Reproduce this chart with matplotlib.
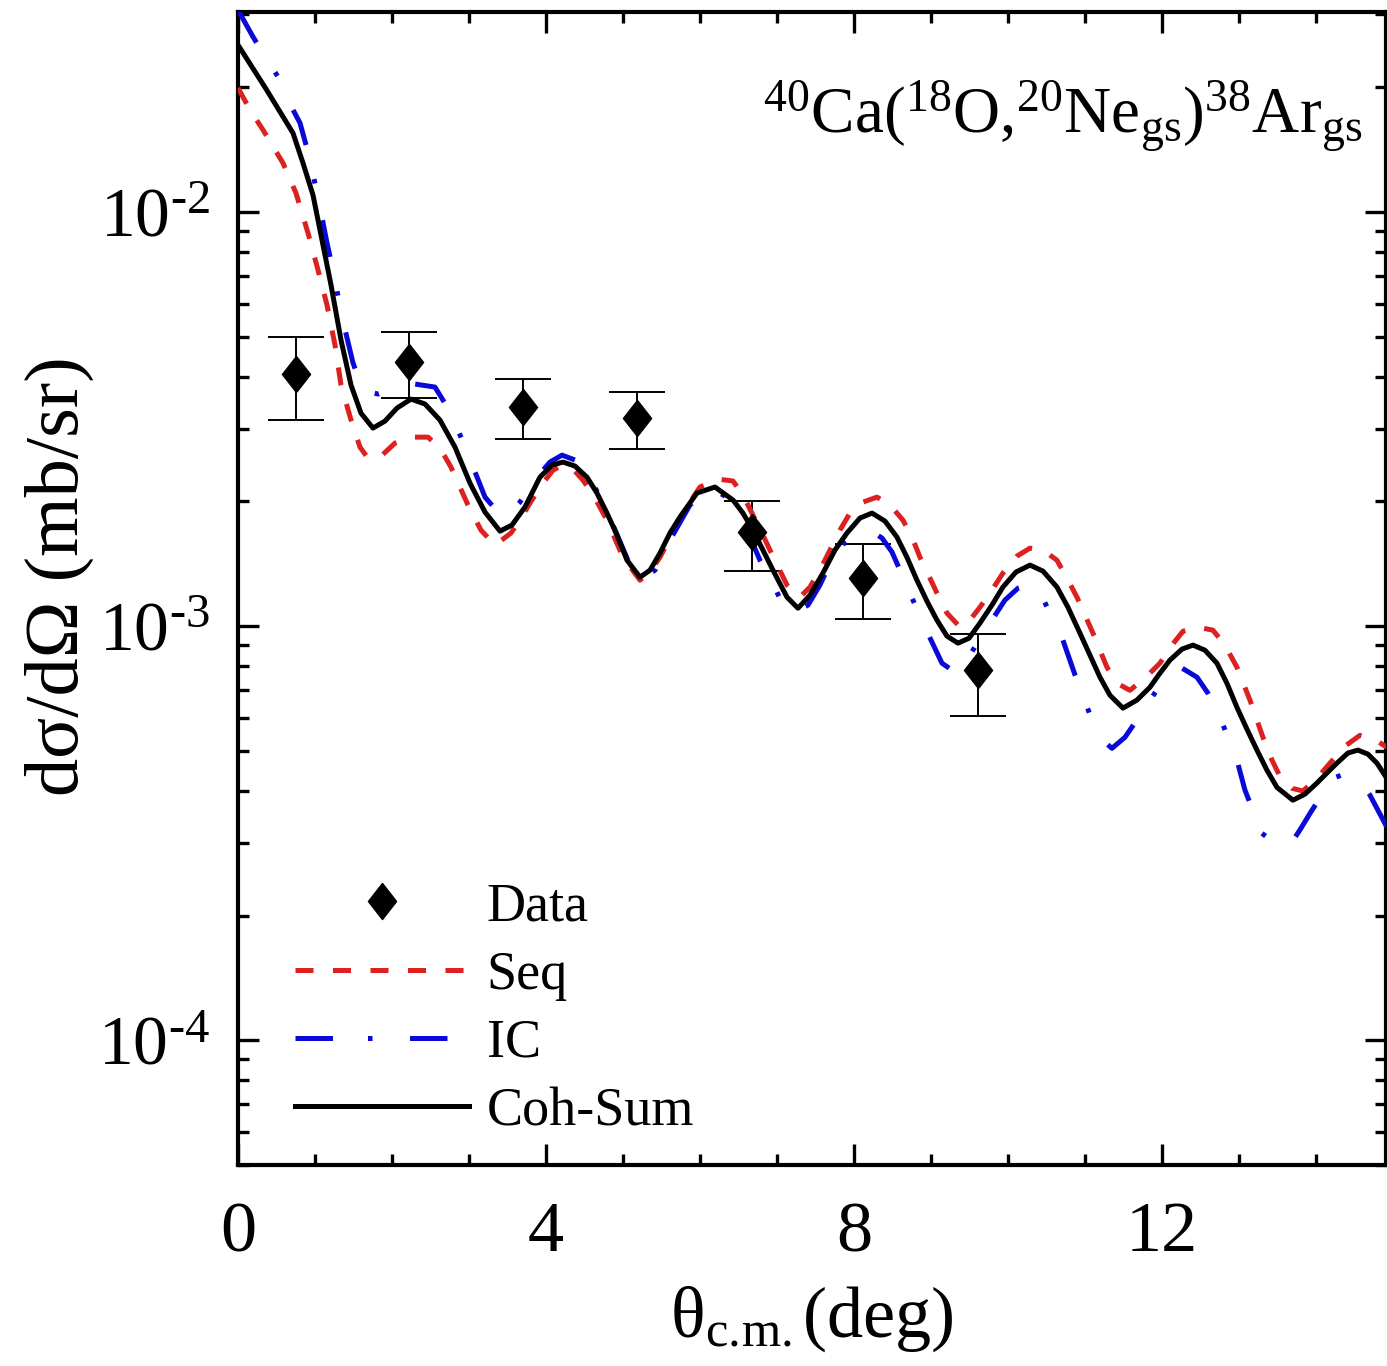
import numpy as np
import matplotlib
matplotlib.use("Agg")
import matplotlib.pyplot as plt
from matplotlib.ticker import LogLocator, FuncFormatter, MultipleLocator, NullFormatter

plt.rcParams['font.family'] = ['Liberation Serif', 'DejaVu Serif']
plt.rcParams['mathtext.fontset'] = 'custom'
plt.rcParams['mathtext.rm'] = 'Liberation Serif'
plt.rcParams['mathtext.it'] = 'Liberation Serif:italic'

# datos experimentales
theta_data = [0.75, 2.22, 3.70, 5.18, 6.68, 8.12, 9.61]
sig_data = [0.00406, 0.00435, 0.00338, 0.00318, 0.00169, 0.00131, 0.000783]
err_up = [0.00499, 0.00513, 0.00395, 0.00367, 0.00201, 0.00158, 0.000957]
err_lo = [0.00315, 0.00356, 0.00283, 0.00268, 0.00136, 0.00104, 0.000607]

# Seq
theta_seq = [0.000, 0.156, 0.325, 0.584, 0.753, 0.909, 1.039, 1.156, 1.260, 1.338,
             1.468, 1.584, 1.688, 1.844, 2.039, 2.234, 2.468, 2.623, 2.766, 2.987,
             3.156, 3.338, 3.545, 3.662, 3.792, 3.961, 4.091, 4.221, 4.351, 4.481,
             4.636, 4.792, 5.000, 5.221, 5.351, 5.481, 5.610, 5.740, 5.870, 6.000,
             6.221, 6.429, 6.558, 6.688, 6.818, 6.909, 7.130, 7.299, 7.429, 7.558,
             7.688, 7.818, 7.948, 8.117, 8.299, 8.468, 8.636, 8.753, 8.857, 8.987,
             9.078, 9.208, 9.377, 9.506, 9.636, 9.792, 9.935, 10.117, 10.286, 10.455,
             10.636, 10.766, 10.896, 11.104, 11.286, 11.416, 11.584, 11.779, 11.974, 12.130,
             12.273, 12.455, 12.662, 12.818, 12.974, 13.143, 13.312, 13.429, 13.532, 13.688,
             13.831, 14.013, 14.182, 14.377, 14.571, 14.740, 14.922]
sig_seq = [0.01993, 0.01764, 0.01578, 0.01313, 0.01111, 0.008898, 0.007244, 0.005961, 0.004773, 0.003820,
           0.003145, 0.002706, 0.002545, 0.002559, 0.002767, 0.002860, 0.002860, 0.002692, 0.002421, 0.001961,
           0.001705, 0.001569, 0.001678, 0.001803, 0.001982, 0.002215, 0.002381, 0.002448, 0.002394, 0.002252,
           0.002038, 0.001803, 0.001467, 0.001291, 0.001351, 0.001467, 0.001632, 0.001803, 0.001993, 0.002167,
           0.002266, 0.002241, 0.002073, 0.001854, 0.001659, 0.001526, 0.001257, 0.001175, 0.001243, 0.001365,
           0.001526, 0.001705, 0.001875, 0.001993, 0.002049, 0.001961, 0.001803, 0.001641, 0.001467, 0.001306,
           0.001202, 0.001075, 0.000995, 0.001034, 0.001111, 0.001222, 0.001343, 0.001476, 0.001543, 0.001526,
           0.001443, 0.001306, 0.001175, 0.000962, 0.000796, 0.000728, 0.000700, 0.000749, 0.000814, 0.000900,
           0.000972, 0.000995, 0.000978, 0.000900, 0.000796, 0.000663, 0.000539, 0.000475, 0.000434, 0.000406,
           0.000400, 0.000429, 0.000467, 0.000513, 0.000545, 0.000536, 0.000510]

# IC
theta_ic = [0.000, 0.195, 0.364, 0.545, 0.701, 0.805, 0.909, 1.039, 1.156, 1.234,
            1.351, 1.494, 1.623, 1.818, 2.065, 2.299, 2.558, 2.766, 2.987, 3.208,
            3.364, 3.494, 3.662, 3.883, 4.052, 4.208, 4.377, 4.571, 4.831, 5.091,
            5.260, 5.416, 5.610, 5.870, 6.169, 6.390, 6.610, 6.779, 6.948, 7.104,
            7.234, 7.403, 7.558, 7.727, 7.883, 8.039, 8.208, 8.364, 8.494, 8.727,
            8.896, 9.143, 9.312, 9.442, 9.545, 9.766, 9.961, 10.130, 10.286, 10.416,
            10.545, 10.714, 10.922, 11.130, 11.260, 11.351, 11.519, 11.753, 11.948, 12.104,
            12.260, 12.455, 12.597, 12.753, 12.974, 13.078, 13.299, 13.506, 13.662, 13.792,
            13.922, 14.091, 14.260, 14.416, 14.571, 14.701, 14.922]
sig_ic = [0.03075, 0.02647, 0.02355, 0.02084, 0.01784, 0.01641, 0.01396, 0.01087, 0.008416, 0.007244,
          0.005578, 0.004318, 0.003716, 0.003634, 0.003757, 0.003842, 0.003778, 0.003269, 0.002602, 0.002049,
          0.001896, 0.001854, 0.001993, 0.002290, 0.002490, 0.002588, 0.002518, 0.002290, 0.001824, 0.001404,
          0.001306, 0.001365, 0.001614, 0.001961, 0.002143, 0.002026, 0.001705, 0.001443, 0.001270, 0.001093,
          0.001081, 0.001124, 0.001257, 0.001467, 0.001595, 0.001678, 0.001705, 0.001632, 0.001510, 0.001202,
          0.001017, 0.000814, 0.000774, 0.000805, 0.000875, 0.001017, 0.001156, 0.001235, 0.001257, 0.001208,
          0.001075, 0.000925, 0.000716, 0.000570, 0.000524, 0.000507, 0.000539, 0.000623, 0.000708, 0.000770,
          0.000792, 0.000753, 0.000689, 0.000603, 0.000475, 0.000402, 0.000316, 0.000296, 0.000296, 0.000322,
          0.000353, 0.000395, 0.000432, 0.000442, 0.000422, 0.000391, 0.000327]

# Coh-Sum
theta_coh = [0.000, 0.364, 0.714, 0.844, 0.974, 1.091, 1.208, 1.338, 1.468, 1.597,
             1.753, 1.909, 2.065, 2.247, 2.429, 2.623, 2.818, 3.013, 3.208, 3.403,
             3.558, 3.727, 3.922, 4.078, 4.221, 4.377, 4.532, 4.662, 4.792, 4.922,
             5.052, 5.221, 5.351, 5.481, 5.610, 5.740, 5.961, 6.195, 6.429, 6.558,
             6.688, 6.818, 6.948, 7.130, 7.273, 7.429, 7.597, 7.753, 7.909, 8.078,
             8.234, 8.403, 8.558, 8.688, 8.818, 8.948, 9.078, 9.208, 9.351, 9.494,
             9.636, 9.792, 9.935, 10.104, 10.286, 10.455, 10.636, 10.779, 10.935, 11.065,
             11.195, 11.325, 11.494, 11.675, 11.844, 11.974, 12.104, 12.260, 12.403, 12.558,
             12.714, 12.844, 12.974, 13.104, 13.234, 13.364, 13.494, 13.701, 13.857, 14.013,
             14.143, 14.273, 14.416, 14.545, 14.675, 14.792, 14.922]
sig_coh = [0.02531, 0.01982, 0.01551, 0.01313, 0.01099, 0.008558, 0.006663, 0.004907, 0.003820, 0.003269,
           0.003008, 0.003127, 0.003362, 0.003534, 0.003438, 0.003145, 0.002706, 0.002215, 0.001885, 0.001696,
           0.001754, 0.001939, 0.002290, 0.002448, 0.002490, 0.002435, 0.002290, 0.002096, 0.001875, 0.001659,
           0.001443, 0.001313, 0.001365, 0.001501, 0.001678, 0.001834, 0.002096, 0.002167, 0.002016, 0.001875,
           0.001705, 0.001526, 0.001365, 0.001175, 0.001105, 0.001188, 0.001343, 0.001526, 0.001678, 0.001824,
           0.001875, 0.001793, 0.001641, 0.001467, 0.001291, 0.001149, 0.001034, 0.000946, 0.000910, 0.000935,
           0.001017, 0.001124, 0.001243, 0.001351, 0.001404, 0.001358, 0.001243, 0.001111, 0.000962, 0.000851,
           0.000753, 0.000681, 0.000634, 0.000663, 0.000712, 0.000770, 0.000828, 0.000880, 0.000900, 0.000875,
           0.000814, 0.000728, 0.000637, 0.000564, 0.000502, 0.000449, 0.000408, 0.000380, 0.000393, 0.000418,
           0.000442, 0.000467, 0.000494, 0.000502, 0.000491, 0.000467, 0.000429]

fig = plt.figure(figsize=(13.87, 13.66), dpi=100)
ax = fig.add_axes([238/1387, 1-1165/1366, (1386-238)/1387, (1165-12)/1366])

lw = 3.6
yerr = [np.array(sig_data)-np.array(err_lo), np.array(err_up)-np.array(sig_data)]
ax.errorbar(theta_data, sig_data, yerr=yerr, fmt='none', ecolor='black',
            elinewidth=1.4, capsize=20, capthick=1.4, zorder=2)
rombo = [(0, 1), (0.78, 0), (0, -1), (-0.78, 0), (0, 1)]
ax.plot(theta_data, sig_data, ls='none', marker=rombo, ms=26, color='black', label='Data', zorder=5)
ax.plot(theta_seq, sig_seq, color='#dd2020', lw=lw, dashes=(3.6, 3.9), label='Seq', zorder=3)
ax.plot(theta_ic, sig_ic, color='#0a0ad8', lw=lw, dashes=(7.5, 7.0, 0.9, 7.5), label='IC', zorder=3)
ax.plot(theta_coh, sig_coh, color='black', lw=lw, label='Coh-Sum', zorder=4)

ax.set_yscale('log')
ax.set_xlim(0, 14.91)
ax.set_ylim(5e-5, 0.0304)

ax.xaxis.set_major_locator(MultipleLocator(4))
ax.xaxis.set_minor_locator(MultipleLocator(1))
ax.yaxis.set_major_locator(LogLocator(base=10, numticks=10))
ax.yaxis.set_minor_locator(LogLocator(base=10, subs=np.arange(2, 10), numticks=20))
ax.yaxis.set_minor_formatter(NullFormatter())
ax.yaxis.set_major_formatter(FuncFormatter(
    lambda v, p: '$\\mathregular{10^{\u2010%d}}$' % abs(int(round(np.log10(v))))))

ax.tick_params(which='both', direction='in', top=True, right=True, width=2.4, labelsize=52)
ax.tick_params(which='major', length=15)
ax.tick_params(which='minor', length=8)
ax.tick_params(axis='x', pad=26)
ax.tick_params(axis='y', pad=20, labelsize=50)
for s in ax.spines.values():
    s.set_linewidth(3)

ax.set_xlabel(r'θ$_{\mathregular{c.\!m.}}$(deg)', fontsize=52, labelpad=13)
ax.set_ylabel('dσ/dΩ (mb/sr)', fontsize=55)
ax.yaxis.set_label_coords(-0.125, 0.511)

ax.text(0.979, 0.895, r'$^{\mathregular{40}}$Ca($^{\mathregular{18}}$O,$^{\mathregular{20}}$Ne$_{\mathregular{gs}}$)$^{\mathregular{38}}$Ar$_{\mathregular{gs}}$',
        transform=ax.transAxes, ha='right', va='baseline', fontsize=47)

ax.legend(loc='lower left', bbox_to_anchor=(0.05, 0.024), frameon=False, fontsize=39,
          handlelength=3.2, handletextpad=0.33, labelspacing=0.33, borderpad=0, borderaxespad=0,
          numpoints=1)

plt.savefig('out.png', dpi=100)
